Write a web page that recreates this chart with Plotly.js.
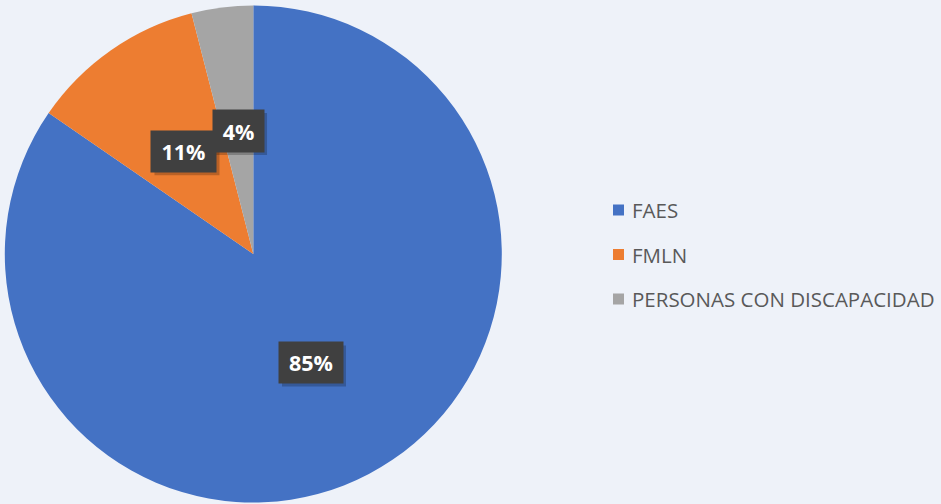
<!DOCTYPE html>
<html>
<head>
<meta charset="utf-8">
<script src="https://cdn.plot.ly/plotly-3.0.1.min.js"></script>
<style>html,body{margin:0;padding:0;background:#EEF2F9;}#chart{width:941px;height:504px;}</style>
</head>
<body>
<div id="chart"></div>
<script>
const categories = ['FAES', 'FMLN', 'PERSONAS CON DISCAPACIDAD'];
const values = [84.6, 11.4, 4.0];
const colors = ['#4472C4', '#ED7D31', '#A5A5A5'];
// label box centres (paper fractions) – Excel "best fit" placement
const labelX = [0.3305, 0.1955, 0.2535];
const labelY = [0.2800, 0.6990, 0.7400];

const W = 941, H = 504;
const total = values.reduce((a, b) => a + b, 0);

const annotations = [];
const shapes = [];

const boxW = [64, 65, 51], boxH = [41, 41, 42];
[0, 1, 2].forEach(i => {
  const pct = Math.round(values[i] / total * 100) + '%';
  const cx = labelX[i] * W, cy = (1 - labelY[i]) * H;
  shapes.push({type: 'rect', xref: 'paper', yref: 'paper', layer: 'above',
    x0: (cx - boxW[i] / 2 + 3) / W, x1: (cx + boxW[i] / 2 + 3) / W,
    y0: 1 - (cy + boxH[i] / 2 + 3) / H, y1: 1 - (cy - boxH[i] / 2 + 3) / H,
    fillcolor: 'rgba(0,0,0,0.22)', line: {width: 0}});
  annotations.push({xref: 'paper', yref: 'paper', x: labelX[i], y: labelY[i],
    xanchor: 'center', yanchor: 'middle', showarrow: false,
    text: '<b>' + pct + '</b>', width: boxW[i], height: boxH[i],
    bgcolor: '#404040', borderpad: 0,
    font: {family: 'Open Sans, Noto Sans, sans-serif', size: 21.5, color: '#FFFFFF'}});
});

// legend
const legX = 613, legY0 = 210, legGap = 44.5, sq = 11;
categories.forEach((c, i) => {
  const cy = legY0 + i * legGap;
  shapes.push({type: 'rect', xref: 'paper', yref: 'paper',
    x0: legX / W, x1: (legX + sq) / W,
    y0: 1 - (cy + sq / 2) / H, y1: 1 - (cy - sq / 2) / H,
    fillcolor: colors[i], line: {width: 0}});
  annotations.push({xref: 'paper', yref: 'paper', x: (legX + sq + 6) / W, y: 1 - cy / H,
    xanchor: 'left', yanchor: 'middle', showarrow: false, text: c,
    font: {family: 'Open Sans, Noto Sans, sans-serif', size: 20.5, color: '#595959'}});
});

const data = [{
  type: 'pie',
  labels: categories,
  values: values,
  sort: false,
  direction: 'clockwise',
  rotation: 0,
  textinfo: 'none',
  hoverinfo: 'label+percent',
  marker: {colors: colors, line: {width: 0}},
  domain: {x: [4.8 / W, 501.8 / W], y: [1 - 502.5 / H, 1 - 5.5 / H]},
  showlegend: false
}];

const layout = {
  width: W, height: H,
  margin: {l: 0, r: 0, t: 0, b: 0},
  paper_bgcolor: '#EEF2F9',
  plot_bgcolor: '#EEF2F9',
  showlegend: false,
  shapes: shapes,
  annotations: annotations
};

Plotly.newPlot('chart', data, layout, {displayModeBar: false, staticPlot: true});
</script>
</body>
</html>
